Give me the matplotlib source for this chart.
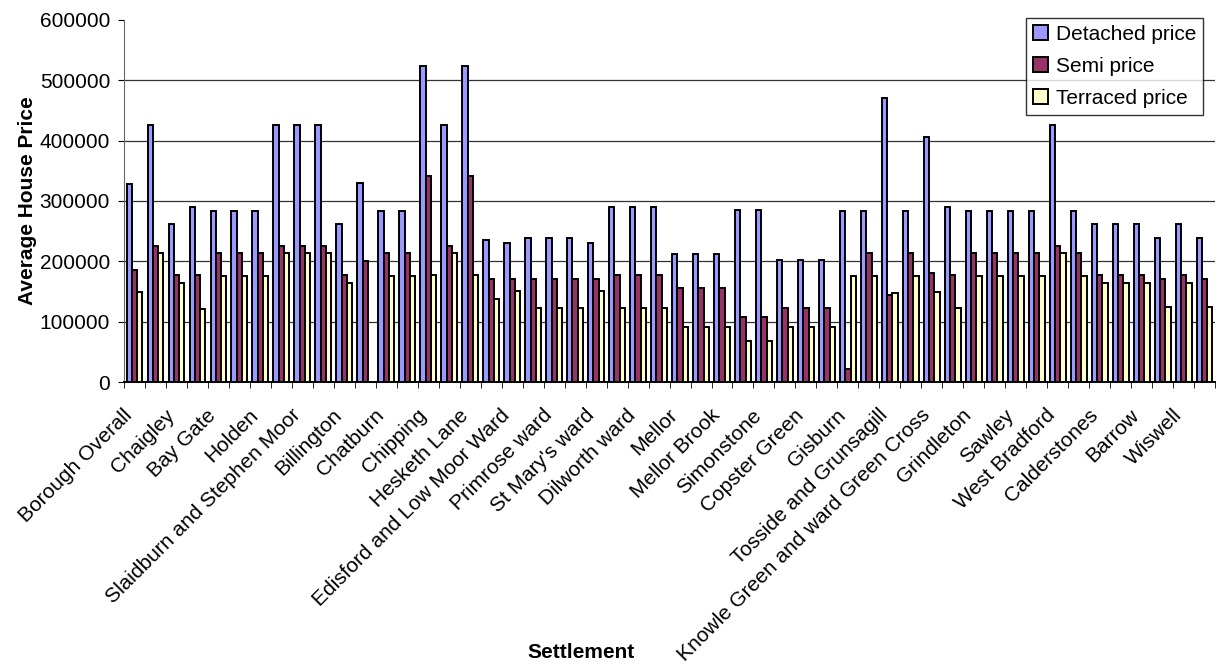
import matplotlib
matplotlib.use("Agg")
import matplotlib.pyplot as plt
import matplotlib.transforms as mtransforms
import numpy as np

plt.rcParams['font.family'] = ['Liberation Sans', 'DejaVu Sans']

# settlement names shown on the axis (every other group is labelled)
shown_labels = ['Borough Overall', 'Chaigley', 'Bay Gate', 'Holden',
                'Slaidburn and Stephen Moor', 'Billington', 'Chatburn',
                'Chipping', 'Hesketh Lane', 'Edisford and Low Moor Ward',
                'Primrose ward', "St Mary's ward", 'Dilworth ward', 'Mellor',
                'Mellor Brook', 'Simonstone', 'Copster Green', 'Gisburn',
                'Tosside and Grunsagill', 'Knowle Green and ward Green Cross',
                'Grindleton', 'Sawley', 'West Bradford', 'Calderstones',
                'Barrow', 'Wiswell']

# prices per group
detached = [329000, 425500, 262000, 290000, 282600, 282600, 282600, 425500,
            425500, 425500, 262000, 330600, 282600, 282600, 523000, 425500,
            523000, 235000, 230700, 239500, 239500, 239500, 230700, 290000,
            290000, 290000, 212000, 212000, 212000, 284800, 284800, 203000,
            203000, 203000, 282600, 282600, 470800, 282600, 405600, 290000,
            282600, 282600, 282600, 282600, 425500, 282600, 262700, 262700,
            262700, 239500, 262700, 239500]
semi = [185000, 225700, 178000, 177000, 213600, 213600, 213600, 225700,
        225700, 225700, 178000, 201000, 213600, 213600, 341600, 225700,
        341600, 170500, 170500, 170500, 170500, 170500, 170500, 177700,
        177700, 177700, 155600, 155600, 155600, 108000, 108000, 123000,
        123000, 123000, 21000, 213600, 144600, 213600, 180000, 177700,
        213600, 213600, 213600, 213600, 225700, 213600, 178000, 178000,
        178000, 170500, 178000, 170500]
terraced = [150000, 213600, 164000, 121000, 175500, 175500, 175500, 213600,
            213600, 213600, 164000, 0, 175500, 175500, 176600, 213600,
            176600, 137400, 151000, 123000, 123000, 123000, 151000, 122000,
            122000, 122000, 90500, 90500, 90500, 68400, 68400, 90500,
            90500, 90500, 175500, 175500, 146800, 175500, 149600, 122000,
            175500, 175500, 175500, 175500, 213600, 175500, 164500, 164500,
            164500, 123600, 164500, 123600]

fig = plt.figure(figsize=(12.2, 6.66), dpi=100)
ax = fig.add_axes([0.1016, 0.4264, 0.8944, 0.5436])

x = np.arange(len(detached))
w = 0.25
ax.bar(x - w, detached, w, color='#9999FF', edgecolor='black', linewidth=1.4,
       label='Detached price', zorder=3)
ax.bar(x, semi, w, color='#993366', edgecolor='black', linewidth=1.4,
       label='Semi price', zorder=3)
ax.bar(x + w, terraced, w, color='#FFFFCC', edgecolor='black', linewidth=1.4,
       label='Terraced price', zorder=3)

ax.set_xlim(-0.5, len(detached) - 0.5)
ax.set_ylim(0, 600000)
ax.set_yticks(range(0, 600001, 100000))
ax.tick_params(axis='y', labelsize=15, length=4, direction='out', pad=6)
for yv in range(100000, 600000, 100000):
    ax.axhline(yv, color='#333333', linewidth=0.9, zorder=1)

# ticks between groups, labels on every other group
ax.set_xticks(np.arange(-0.5, len(detached), 1), minor=True)
ax.set_xticks(x[::2])
ax.set_xticklabels(shown_labels, rotation=45, ha='right', va='top',
                   rotation_mode='anchor', fontsize=15)
ax.tick_params(axis='x', which='major', length=0, pad=6)
ax.tick_params(axis='x', which='minor', length=4, direction='out')
shift = mtransforms.ScaledTranslation(-8.5 / 72, -11 / 72, fig.dpi_scale_trans)
for lab in ax.get_xticklabels():
    lab.set_transform(lab.get_transform() + shift)

for s in ['top', 'right']:
    ax.spines[s].set_visible(False)
ax.spines['left'].set_color('#666666')
ax.spines['bottom'].set_color('black')
ax.spines['bottom'].set_linewidth(1.4)

ax.set_ylabel('Average House Price', fontsize=15, fontweight='bold', labelpad=2)
fig.text(0.476, 0.021, 'Settlement', fontsize=15, fontweight='bold',
         ha='center', va='center')

leg = ax.legend(loc='upper right', bbox_to_anchor=(0.989, 1.0055), fontsize=15,
                frameon=True, fancybox=False, edgecolor='black',
                handlelength=0.7, handleheight=0.7, handletextpad=0.4,
                borderpad=0.33, labelspacing=0.62, borderaxespad=0)
leg.get_frame().set_linewidth(1.0)

fig.savefig('out.png', dpi=100)
